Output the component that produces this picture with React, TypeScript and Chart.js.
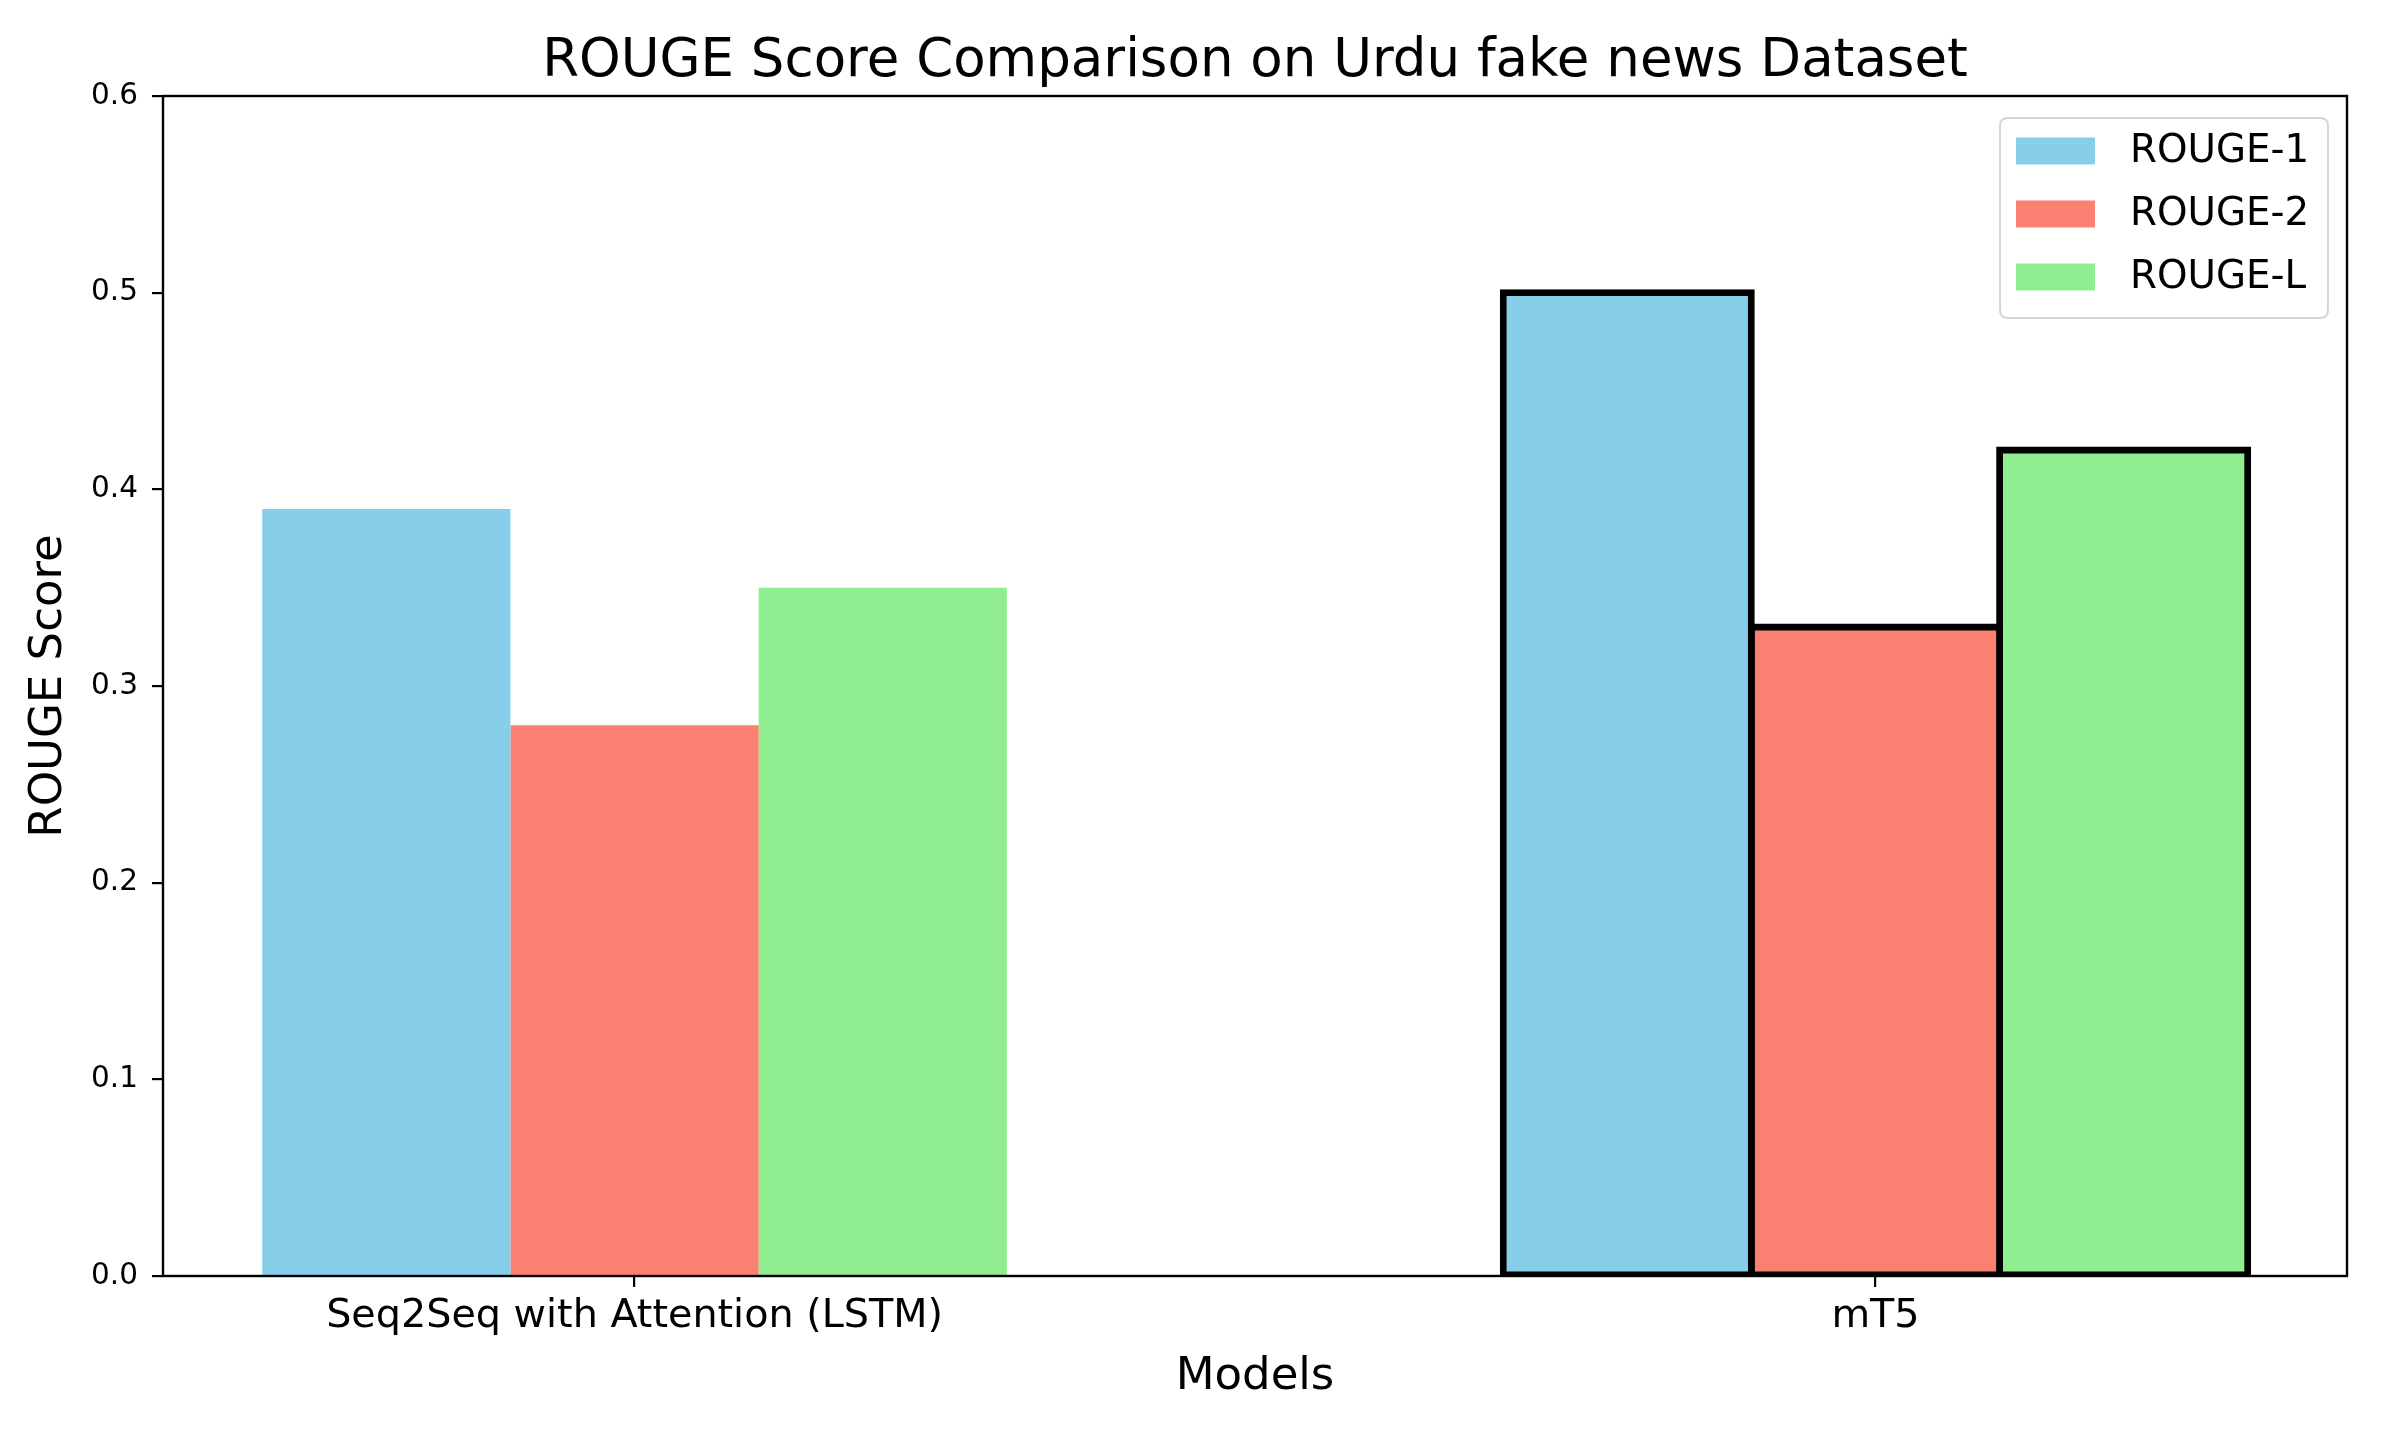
import React, { useEffect, useRef } from 'react';
import { Chart, registerables } from 'chart.js';

Chart.register(...registerables);

// ---- data ----
const categories = ['Seq2Seq with Attention (LSTM)', 'mT5'];
const seriesNames = ['ROUGE-1', 'ROUGE-2', 'ROUGE-L'];
const rouge1 = [0.39, 0.5];
const rouge2 = [0.28, 0.33];
const rougeL = [0.35, 0.42];
const seriesColors = ['#87CEEB', '#FA8072', '#90EE90'];
const yTicks = [0, 0.1, 0.2, 0.3, 0.4, 0.5, 0.6];
const titleText = 'ROUGE Score Comparison on Urdu fake news Dataset';
const xTitle = 'Models';
const yTitle = 'ROUGE Score';

const W = 2393;
const H = 1433;
const FAMILY = "'DejaVu Sans', sans-serif";

export default function App() {
  const ref = useRef<HTMLCanvasElement>(null);

  useEffect(() => {
    const canvas = ref.current;
    if (!canvas) return;
    const seriesValues = [rouge1, rouge2, rougeL];

    const spinePlugin = {
      id: 'spines',
      afterDatasetsDraw(chart: any) {
        const { ctx, chartArea: a } = chart;
        ctx.save();
        ctx.strokeStyle = '#000';
        ctx.lineWidth = 2.4;
        ctx.strokeRect(a.left, a.top, a.right - a.left, a.bottom - a.top);
        ctx.restore();
      },
    };

    const legendPlugin = {
      id: 'mplLegend',
      afterDraw(chart: any) {
        const { ctx, chartArea: a } = chart;
        const boxW = 328;
        const boxH = 200;
        const right = a.right - 19;
        const left = right - boxW;
        const top = a.top + 22;
        const r = 8;
        ctx.save();
        ctx.beginPath();
        ctx.moveTo(left + r, top);
        ctx.lineTo(left + boxW - r, top);
        ctx.quadraticCurveTo(left + boxW, top, left + boxW, top + r);
        ctx.lineTo(left + boxW, top + boxH - r);
        ctx.quadraticCurveTo(left + boxW, top + boxH, left + boxW - r, top + boxH);
        ctx.lineTo(left + r, top + boxH);
        ctx.quadraticCurveTo(left, top + boxH, left, top + boxH - r);
        ctx.lineTo(left, top + r);
        ctx.quadraticCurveTo(left, top, left + r, top);
        ctx.closePath();
        ctx.fillStyle = 'rgba(255,255,255,0.8)';
        ctx.fill();
        ctx.strokeStyle = '#d6d6d6';
        ctx.lineWidth = 2;
        ctx.stroke();
        const rowOffsets = [33, 96, 159];
        seriesNames.forEach((name, i) => {
          const cy = top + rowOffsets[i];
          ctx.fillStyle = seriesColors[i];
          ctx.fillRect(left + 16, cy - 13.5, 79, 27);
          ctx.fillStyle = '#000';
          ctx.font = `38.8px ${FAMILY}`;
          ctx.textBaseline = 'middle';
          ctx.textAlign = 'left';
          ctx.fillText(name, left + 130, cy + 1);
        });
        ctx.restore();
      },
    };

    const chart = new Chart(canvas, {
      type: 'bar',
      data: {
        datasets: seriesNames.map((name, si) => ({
          label: name,
          data: seriesValues[si].map((v, i) => ({ x: i, y: v })),
          backgroundColor: seriesColors[si],
          borderColor: '#000',
          borderWidth: (c: any) => (c.dataIndex === 1 ? 6.8 : 0),
          inflateAmount: (c: any) => (c.dataIndex === 1 ? 3.4 : 0),
          borderSkipped: false,
          categoryPercentage: 0.6,
          barPercentage: 1.0,
        })),
      },
      options: {
        animation: false,
        responsive: false,
        devicePixelRatio: 1,
        layout: { padding: { left: 0, right: 46, top: 0, bottom: 0 } },
        plugins: {
          legend: { display: false },
          tooltip: { enabled: false },
          title: {
            display: true,
            fullSize: false,
            text: titleText,
            color: '#000',
            font: { family: FAMILY, size: 53, weight: 'normal' },
            padding: { top: 30, bottom: 2.4 },
          },
        },
        scales: {
          x: {
            type: 'linear',
            min: -0.38,
            max: 1.38,
            offset: false,
            afterBuildTicks: (s: any) => {
              s.ticks = categories.map((_, i) => ({ value: i }));
            },
            afterFit: (s: any) => {
              s.height = 157;
            },
            ticks: {
              callback: (v: any) => categories[v] ?? '',
              color: '#000',
              font: { family: FAMILY, size: 39.7 },
              padding: 6,
              maxRotation: 0,
              autoSkip: false,
            },
            grid: {
              display: true,
              drawOnChartArea: false,
              drawTicks: true,
              tickLength: 11,
              color: '#000',
              lineWidth: 2.2,
              offset: false,
            },
            border: { display: false },
            title: {
              display: true,
              text: xTitle,
              color: '#000',
              font: { family: FAMILY, size: 45 },
              padding: { top: 0, bottom: 29 },
            },
          },
          y: {
            min: 0,
            max: 0.6,
            afterBuildTicks: (s: any) => {
              s.ticks = yTicks.map((v) => ({ value: v }));
            },
            afterFit: (s: any) => {
              s.width = 163;
            },
            ticks: {
              callback: (v: any) => Number(v).toFixed(1),
              color: '#000',
              font: { family: FAMILY, size: 29.5 },
              padding: 14,
            },
            grid: {
              display: true,
              drawOnChartArea: false,
              drawTicks: true,
              tickLength: 11,
              color: '#000',
              lineWidth: 2.2,
            },
            border: { display: false },
            title: {
              display: true,
              text: yTitle,
              color: '#000',
              font: { family: FAMILY, size: 45 },
              padding: { top: 22, bottom: 0 },
            },
          },
        },
      },
      plugins: [spinePlugin, legendPlugin],
    } as any);

    return () => chart.destroy();
  }, []);

  return (
    <div style={{ position: 'fixed', left: 0, top: 0, width: W, height: H, background: '#fff' }}>
      <canvas ref={ref} width={W} height={H} style={{ display: 'block', width: W, height: H }} />
    </div>
  );
}
